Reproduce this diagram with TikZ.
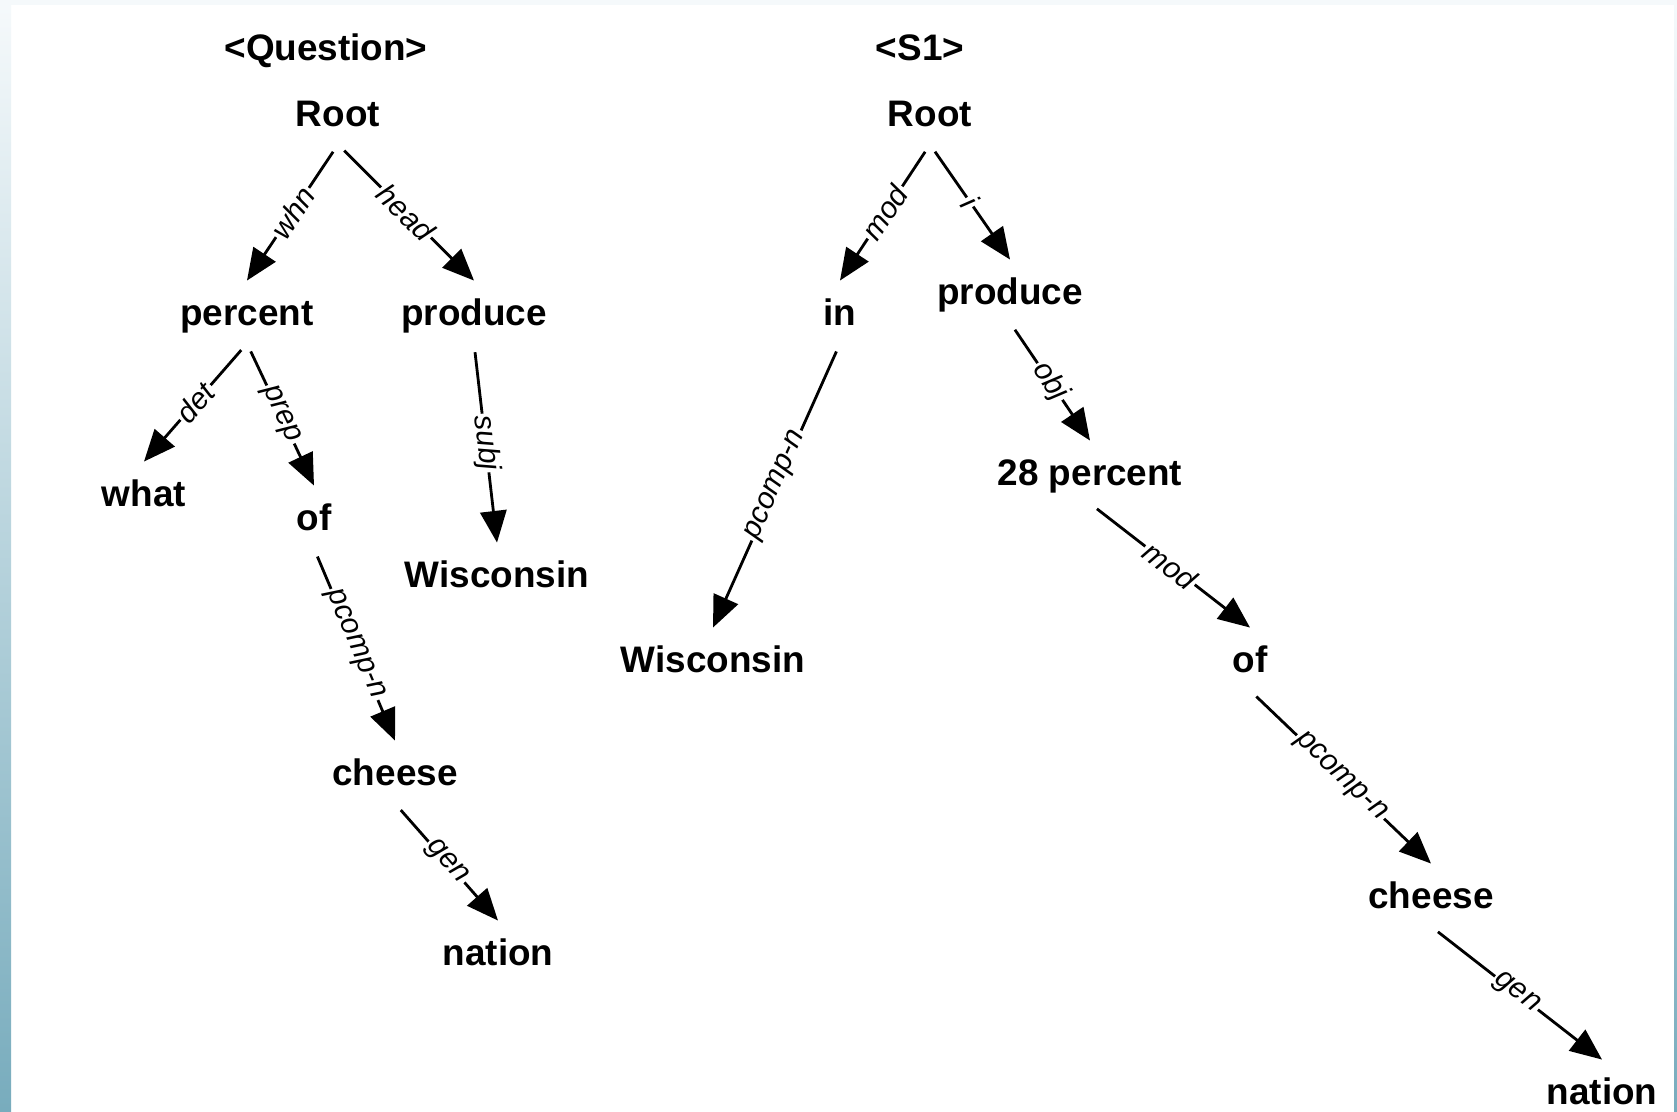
\documentclass[tikz,border=0pt]{standalone}
\usepackage{fontspec}
\setmainfont{Liberation Sans}
\usepackage{tikz}
\usetikzlibrary{arrows.meta,positioning}
\usepackage{xcolor}
\definecolor{edgegray}{RGB}{245,249,251}
\definecolor{stripteal}{RGB}{120,172,189}
\definecolor{stripmid}{RGB}{222,234,239}

\begin{document}
\begin{tikzpicture}[
    word/.style={font=\bfseries\fontsize{10.5}{12}\selectfont,inner xsep=0pt,inner ysep=5pt,text height=7.5pt,text depth=0pt},
    dep/.style={->,line width=0.8pt,shorten <=2.5pt},
    rel/.style={font=\itshape\fontsize{8.5}{9}\selectfont,sloped,fill=white,inner sep=0.6pt,pos=0.5},
    >={Triangle[length=9pt,width=7.5pt]}
]
\useasboundingbox (0,0) rectangle (16.77,-11.11);
% page and side strips
\fill[white] (0,0) rectangle (16.77,-11.11);
\fill[edgegray] (0,0) rectangle (16.77,-0.05);
\shade[top color=edgegray,middle color=stripmid,bottom color=stripteal] (0,-0.05) rectangle (0.11,-11.11);
\shade[top color=edgegray,middle color=stripmid,bottom color=stripteal] (16.74,-0.05) rectangle (16.77,-11.11);

% question tree
\node[word] (qtitle) at (3.26,-0.47) {<Question>};
\node[word] (qroot) at (3.38,-1.13) {Root};
\node[word] (qpercent) at (2.47,-3.12) {percent};
\node[word] (qproduce) at (4.74,-3.12) {produce};
\node[word] (qwhat) at (1.44,-4.93) {what};
\node[word] (qof) at (3.14,-5.17) {of};
\node[word] (qwisc) at (4.97,-5.74) {Wisconsin};
\node[word] (qcheese) at (3.95,-7.72) {cheese};
\node[word] (qnation) at (4.98,-9.52) {nation};

\draw[dep] (qroot.south) -- node[rel] {whn} (qpercent.north);
\draw[dep] (qroot.south) -- node[rel] {head} (qproduce.north);
\draw[dep] (qpercent.south) -- node[rel] {det} (qwhat.north);
\draw[dep] (qpercent.south) -- node[rel] {prep} (qof.north);
\draw[dep] (qproduce.south) -- node[rel] {subj} (qwisc.north);
\draw[dep] (qof.south) -- node[rel] {pcomp-n} (qcheese.north);
\draw[dep] (qcheese.south) -- node[rel] {gen} (qnation.north);

% sentence tree
\node[word] (stitle) at (9.20,-0.47) {<S1>};
\node[word] (sroot) at (9.30,-1.13) {Root};
\node[word] (sin) at (8.40,-3.12) {in};
\node[word] (sproduce) at (10.10,-2.91) {produce};
\node[word] (swisc) at (7.13,-6.59) {Wisconsin};
\node[word] (spercent) at (10.90,-4.72) {28 percent};
\node[word] (sof) at (12.50,-6.59) {of};
\node[word] (scheese) at (14.31,-8.95) {cheese};
\node[word] (snation) at (16.02,-10.91) {nation};

\draw[dep] (sroot.south) -- node[rel] {mod} (sin.north);
\draw[dep] (sroot.south) -- node[rel] {i} (sproduce.north);
\draw[dep] (sin.south) -- node[rel] {pcomp-n} (swisc.north);
\draw[dep] (sproduce.south) -- node[rel] {obj} (spercent.north);
\draw[dep] (spercent.south) -- node[rel] {mod} (sof.north);
\draw[dep] (sof.south) -- node[rel] {pcomp-n} (scheese.north);
\draw[dep] (scheese.south) -- node[rel] {gen} (snation.north);
\end{tikzpicture}
\end{document}
